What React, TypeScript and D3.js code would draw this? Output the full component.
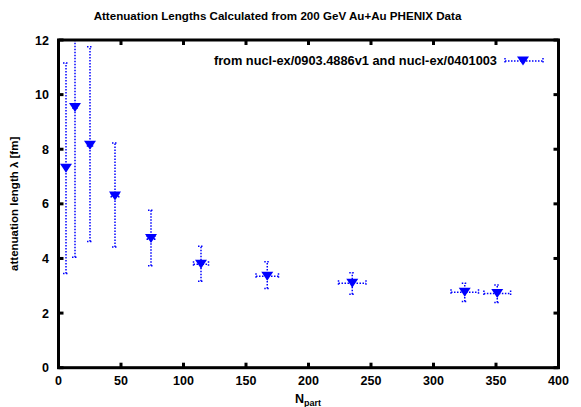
import React from "react";
import * as d3 from "d3";

const npart = [6, 13.2, 25.2, 45.2, 74, 114, 167, 235, 325, 351];
const lambda = [7.3, 9.53, 8.15, 6.29, 4.73, 3.79, 3.35, 3.09, 2.76, 2.72];
const yHigh = [11.16, 12.6, 11.75, 8.23, 5.77, 4.45, 3.88, 3.48, 3.09, 3.03];
const yLow = [3.45, 4.04, 4.62, 4.42, 3.73, 3.17, 2.9, 2.69, 2.42, 2.39];
const xErr = [1, 1.5, 2, 3, 3, 6, 9, 11, 11, 10.7];
const xTicks = [0, 50, 100, 150, 200, 250, 300, 350, 400];
const yTicks = [0, 2, 4, 6, 8, 10, 12];

const W = 581, H = 407;
const L = 58.5, R = 558.5, T = 40, B = 367.7;
const BLUE = "#0000ff";
const FONT = "'Liberation Sans', Arial, Helvetica, sans-serif";

export default function App() {
  const x = d3.scaleLinear().domain([0, 400]).range([L, R]);
  const y = d3.scaleLinear().domain([0, 12]).range([B, T]);
  const tri = (cx: number, cy: number) =>
    `M${cx - 6},${cy - 4.5}L${cx + 6},${cy - 4.5}L${cx},${cy + 4.5}Z`;
  const dash = "1.5,1.5";
  return (
    <svg width={W} height={H} style={{ position: "absolute", left: 0, top: 0, background: "#fff" }}>
      <defs>
        <clipPath id="plot">
          <rect x={L} y={T} width={R - L} height={B - T} />
        </clipPath>
      </defs>
      <text x={277.5} y={20} textAnchor="middle" fontFamily={FONT} fontWeight="bold" fontSize={11.6}>
        Attenuation Lengths Calculated from 200 GeV Au+Au PHENIX Data
      </text>
      <g clipPath="url(#plot)">
        {npart.map((n, i) => {
          const cx = x(n), cy = y(lambda[i]);
          const x0 = x(n - xErr[i]), x1 = x(n + xErr[i]);
          return (
            <g key={i} stroke={BLUE} strokeWidth={1.5} strokeDasharray={dash} fill="none">
              <line x1={cx} x2={cx} y1={y(yLow[i])} y2={y(yHigh[i])} />
              <line x1={cx - 3} x2={cx + 3} y1={y(yLow[i])} y2={y(yLow[i])} />
              <line x1={cx - 3} x2={cx + 3} y1={y(yHigh[i])} y2={y(yHigh[i])} />
              <line x1={x0} x2={x1} y1={cy} y2={cy} />
              <line x1={x0} x2={x0} y1={cy - 3} y2={cy + 3} />
              <line x1={x1} x2={x1} y1={cy - 3} y2={cy + 3} />
              <path d={tri(cx, cy)} fill={BLUE} stroke="none" />
            </g>
          );
        })}
      </g>
      <rect x={L} y={T} width={R - L} height={B - T} fill="none" stroke="#000" strokeWidth={3} />
      {xTicks.map((t) => (
        <g key={"x" + t}>
          <line x1={x(t)} x2={x(t)} y1={B} y2={B - 5} stroke="#000" strokeWidth={3} />
          <line x1={x(t)} x2={x(t)} y1={T} y2={T + 5} stroke="#000" strokeWidth={3} />
          <text x={x(t)} y={385} textAnchor="middle" fontFamily={FONT} fontWeight="bold" fontSize={12.5}>
            {t}
          </text>
        </g>
      ))}
      {yTicks.map((t) => (
        <g key={"y" + t}>
          <line x1={L} x2={L + 5} y1={y(t)} y2={y(t)} stroke="#000" strokeWidth={3} />
          <line x1={R} x2={R - 5} y1={y(t)} y2={y(t)} stroke="#000" strokeWidth={3} />
          <text x={49} y={y(t) + 4.5} textAnchor="end" fontFamily={FONT} fontWeight="bold" fontSize={12.5}>
            {t}
          </text>
        </g>
      ))}
      <text
        transform={`translate(18,${(T + B) / 2}) rotate(-90)`}
        textAnchor="middle"
        fontFamily={FONT}
        fontWeight="bold"
        fontSize={11.5}
      >
        attenuation length λ [fm]
      </text>
      <text x={308} y={403} textAnchor="middle" fontFamily={FONT} fontWeight="bold" fontSize={12.5}>
        N<tspan fontSize={9} dy={3}>part</tspan>
      </text>
      <text x={497} y={65} textAnchor="end" fontFamily={FONT} fontWeight="bold" fontSize={12.8}>
        from nucl-ex/0903.4886v1 and nucl-ex/0401003
      </text>
      <g stroke={BLUE} strokeWidth={1.5} strokeDasharray={dash} fill="none">
        <line x1={505} x2={543} y1={61} y2={61} />
        <line x1={505} x2={505} y1={58} y2={64} />
        <line x1={543} x2={543} y1={58} y2={64} />
      </g>
      <path d={tri(523, 61)} fill={BLUE} />
    </svg>
  );
}
